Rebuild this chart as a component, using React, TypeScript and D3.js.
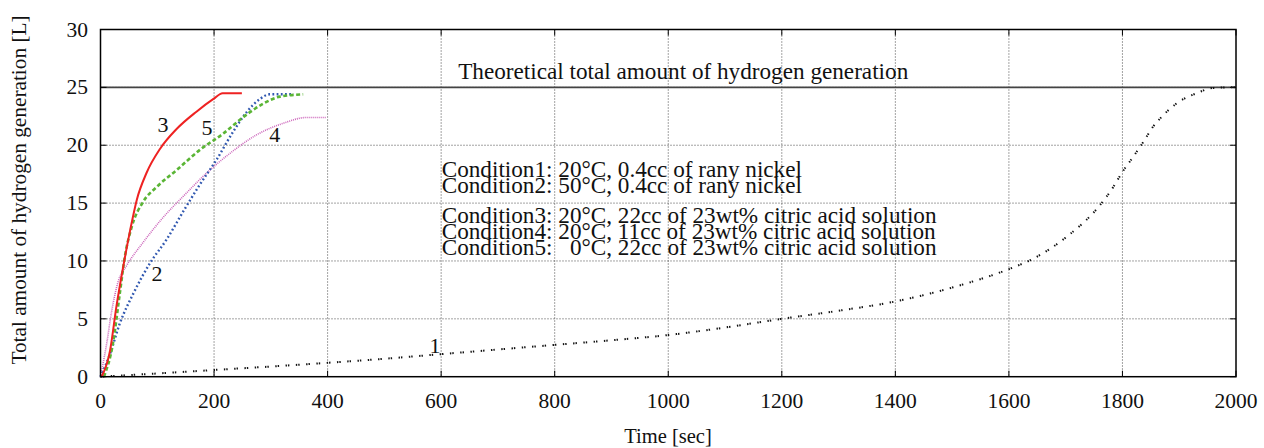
import React from "react";
import * as d3 from "d3";

// Hydrogen generation over time for five reaction conditions
const cond1Time = [0, 100, 200, 300, 400, 500, 600, 700, 800, 900, 1000, 1100, 1200, 1300, 1400, 1500, 1600, 1643, 1702, 1760, 1784, 1800, 1819, 1837, 1854, 1869, 1895, 1931, 1960, 1995, 2000];
const cond1Value = [0, 0.28, 0.58, 0.88, 1.2, 1.55, 1.95, 2.35, 2.75, 3.15, 3.6, 4.25, 5.0, 5.7, 6.5, 7.7, 9.3, 10.2, 12.1, 14.8, 16.4, 17.7, 19.0, 20.3, 21.6, 22.45, 23.6, 24.5, 24.95, 25.0, 25.0];

const cond2Time = [0, 17, 34, 58, 87, 117, 146, 175, 205, 234, 258, 281, 298, 340];
const cond2Value = [0, 2.0, 4.6, 7.2, 9.8, 11.9, 14.3, 16.6, 18.8, 21.2, 22.9, 24.0, 24.4, 24.4];

const cond3Time = [2, 17, 28, 40, 52, 64, 81, 105, 134, 169, 199, 215, 249];
const cond3Value = [0, 2.3, 6.05, 9.5, 12.6, 15.3, 17.6, 19.7, 21.4, 22.9, 24.0, 24.5, 24.5];

const cond4Time = [0, 11, 20, 31, 46, 75, 111, 146, 187, 228, 275, 322, 363, 398];
const cond4Value = [0, 2.9, 5.75, 8.2, 9.6, 11.6, 13.8, 15.6, 17.6, 19.3, 20.9, 21.9, 22.4, 22.4];

const cond5Time = [6, 22, 34, 43, 55, 75, 99, 134, 175, 216, 252, 287, 316, 357];
const cond5Value = [0, 2.9, 7.2, 10.4, 12.95, 15.1, 16.4, 17.85, 19.6, 21.0, 22.45, 23.6, 24.2, 24.4];

const xTicks = [0, 200, 400, 600, 800, 1000, 1200, 1400, 1600, 1800, 2000];
const yTicks = [0, 5, 10, 15, 20, 25, 30];

const theoreticalTotal = 25;

const curveLabels = ["1", "2", "3", "4", "5"];
const curveLabelTime = [589, 99.5, 110, 307, 187.6];
const curveLabelValue = [2.73, 8.95, 21.8, 20.9, 21.5];

const conditionLines = [
  "Condition1: 20°C, 0.4cc of rany nickel",
  "Condition2: 50°C, 0.4cc of rany nickel",
  "Condition3: 20°C, 22cc of 23wt% citric acid solution",
  "Condition4: 20°C, 11cc of 23wt% citric acid solution",
  "Condition5:   0°C, 22cc of 23wt% citric acid solution",
];

const W = 1264;
const H = 448;
const left = 100.5;
const right = 1236;
const top = 29.5;
const bottom = 376.7;
const FONT = "'Liberation Serif', 'Times New Roman', Times, serif";

const series = [
  { t: cond1Time, v: cond1Value, color: "#111111", width: 2, dash: "1.4,1,1.4,6.5" },
  { t: cond4Time, v: cond4Value, color: "#cc66bb", width: 1.6, dash: "1,1" },
  { t: cond2Time, v: cond2Value, color: "#3158b0", width: 2.4, dash: "1.8,2.4" },
  { t: cond5Time, v: cond5Value, color: "#5ab535", width: 2.6, dash: "4,2.5" },
  { t: cond3Time, v: cond3Value, color: "#ee2222", width: 2, dash: null as string | null },
];

const txt = { fontFamily: FONT, fill: "#111" } as const;

export default function App() {
  const x = d3.scaleLinear().domain([0, 2000]).range([left, right]);
  const y = d3.scaleLinear().domain([0, 30]).range([bottom, top]);
  const line = d3
    .line<[number, number]>()
    .x((d) => x(d[0]))
    .y((d) => y(d[1]))
    .curve(d3.curveMonotoneX);

  const condX = x(601);
  const condBaselines = [176.7, 193.3, 223.3, 239.3, 255];

  return (
    <svg width={W} height={H} style={{ position: "absolute", left: 0, top: 0, background: "#fff" }}>
      <rect x={0} y={0} width={W} height={H} fill="#fff" />
      {/* grid */}
      {xTicks.slice(1, -1).map((t) => (
        <line key={"gx" + t} x1={x(t)} x2={x(t)} y1={top} y2={bottom} stroke="#333" strokeWidth={0.9} strokeDasharray="1,2" />
      ))}
      {yTicks.slice(1, -1).map((v) => (
        <line key={"gy" + v} x1={left} x2={right} y1={y(v)} y2={y(v)} stroke="#333" strokeWidth={0.9} strokeDasharray="1,2" />
      ))}
      {/* theoretical maximum */}
      <line x1={left} x2={right} y1={y(theoreticalTotal)} y2={y(theoreticalTotal)} stroke="#444" strokeWidth={1.6} />
      <text x={x(630)} y={79} fontSize={23.2} style={txt}>
        Theoretical total amount of hydrogen generation
      </text>
      {/* ticks */}
      {xTicks.map((t) => (
        <g key={"tx" + t}>
          <line x1={x(t)} x2={x(t)} y1={bottom} y2={bottom - 6} stroke="#000" strokeWidth={1} />
          <line x1={x(t)} x2={x(t)} y1={top} y2={top + 6} stroke="#000" strokeWidth={1} />
          <text x={x(t)} y={408} fontSize={21.5} textAnchor="middle" style={txt}>
            {t}
          </text>
        </g>
      ))}
      {yTicks.map((v) => (
        <g key={"ty" + v}>
          <line x1={left} x2={left + 6} y1={y(v)} y2={y(v)} stroke="#000" strokeWidth={1} />
          <line x1={right} x2={right - 6} y1={y(v)} y2={y(v)} stroke="#000" strokeWidth={1} />
          <text x={88} y={y(v) + 7} fontSize={21.5} textAnchor="end" style={txt}>
            {v}
          </text>
        </g>
      ))}
      {/* curves */}
      {series.map((s, i) => (
        <path
          key={"s" + i}
          d={line(s.t.map((t, j) => [t, s.v[j]] as [number, number])) || ""}
          fill="none"
          stroke={s.color}
          strokeWidth={s.width}
          strokeDasharray={s.dash || undefined}
        />
      ))}
      {curveLabels.map((lab, i) => (
        <text
          key={"cl" + lab}
          x={x(curveLabelTime[i])}
          y={y(curveLabelValue[i]) + 7.5}
          fontSize={22}
          textAnchor="middle"
          style={txt}
        >
          {lab}
        </text>
      ))}
      {/* condition descriptions */}
      {conditionLines.map((c, i) => (
        <text key={"cd" + i} x={condX} y={condBaselines[i]} fontSize={23.2} style={{ ...txt, whiteSpace: "pre" }} xmlSpace="preserve">
          {c}
        </text>
      ))}
      {/* frame */}
      <rect x={left} y={top} width={right - left} height={bottom - top} fill="none" stroke="#000" strokeWidth={1.5} />
      {/* axis titles */}
      <text x={668} y={443} fontSize={20.5} textAnchor="middle" style={txt}>
        Time [sec]
      </text>
      <text
        transform={`translate(26, ${190}) rotate(-90)`}
        fontSize={21.3}
        textAnchor="middle"
        style={txt}
      >
        Total amount of hydrogen generation [L]
      </text>
    </svg>
  );
}
